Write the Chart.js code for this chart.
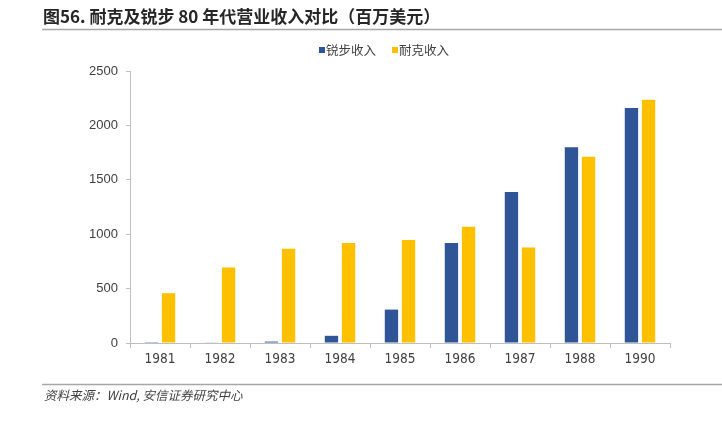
<!DOCTYPE html>
<html lang="zh">
<head>
  <meta charset="UTF-8" />
  <title>耐克及锐步 80 年代营业收入对比</title>
  <script src="https://cdn.jsdelivr.net/npm/chart.js"></script>
  <style>
    html, body { margin: 0; padding: 0; background: #fff; }
    #wrap { position: relative; width: 722px; height: 421px; }
  </style>
</head>
<body>
  <div id="wrap">
    <canvas id="revChart" width="722" height="421"></canvas>
  </div>

  <script>
    // 数据（百万美元）
    const years = ['1981', '1982', '1983', '1984', '1985', '1986', '1987', '1988', '1990'];
    const reebok = [1.5, 3.5, 13, 66, 307, 919, 1389, 1800, 2159];
    const nike = [458, 694, 867, 920, 946, 1069, 877, 1711, 2235];
    const yTicks = [0, 500, 1000, 1500, 2000, 2500];

    const titleText = '图56. 耐克及锐步 80 年代营业收入对比（百万美元）';
    const sourceText = '资料来源：Wind, 安信证券研究中心';

    const BLUE = '#2F5597';
    const GOLD = '#FFC000';
    const AXIS = '#BFBFBF';
    const CJK = '"Noto Sans CJK SC", "Noto Sans", sans-serif';

    // 标题、分隔线、图例、来源
    const decor = {
      id: 'decor',
      afterDraw(chart) {
        const c = chart.ctx;
        c.save();

        c.fillStyle = '#262626';
        c.font = 'bold 17px ' + CJK;
        c.textBaseline = 'middle';
        c.textAlign = 'left';
        c.fillText(titleText, 43, 17);

        c.strokeStyle = '#A6A6A6';
        c.lineWidth = 1.5;
        c.beginPath(); c.moveTo(42, 29.5); c.lineTo(722, 29.5); c.stroke();
        c.beginPath(); c.moveTo(42, 384.5); c.lineTo(722, 384.5); c.stroke();

        // 图例
        c.font = '12.5px ' + CJK;
        let x = 319;
        chart.data.datasets.forEach(ds => {
          c.fillStyle = ds.backgroundColor;
          c.fillRect(x, 47, 6, 6);
          c.fillStyle = '#404040';
          c.fillText(ds.label, x + 7, 50.5);
          x += 7 + c.measureText(ds.label).width + 16;
        });

        c.fillStyle = '#404040';
        c.font = 'italic 12.5px ' + CJK;
        c.fillText(sourceText, 44, 395);
        c.restore();
      }
    };

    new Chart(document.getElementById('revChart').getContext('2d'), {
      type: 'bar',
      data: {
        labels: years,
        datasets: [
          { label: '锐步收入', data: reebok, backgroundColor: BLUE },
          { label: '耐克收入', data: nike, backgroundColor: GOLD }
        ]
      },
      options: {
        responsive: false,
        animation: false,
        events: [],
        datasets: { bar: { categoryPercentage: 0.57, barPercentage: 0.78 } },
        layout: { padding: { left: 60, right: 52, top: 71, bottom: 38 } },
        plugins: { legend: { display: false }, tooltip: { enabled: false } },
        scales: {
          x: {
            afterFit(s) { s.height = 40; },
            border: { color: AXIS, width: 1 },
            grid: { offset: true, drawOnChartArea: false, drawTicks: true, tickLength: 5, color: AXIS },
            ticks: {
              color: '#404040',
              padding: 3,
              font: { family: '"DejaVu Sans Condensed", "Liberation Sans", Arial, sans-serif', size: 13.5 }
            }
          },
          y: {
            min: 0,
            max: 2500,
            afterFit(s) { s.width = 70; },
            afterBuildTicks(s) { s.ticks = yTicks.map(v => ({ value: v })); },
            border: { color: AXIS, width: 1 },
            grid: { drawOnChartArea: false, drawTicks: true, tickLength: 4, color: AXIS },
            ticks: {
              color: '#404040',
              padding: 8,
              callback: v => String(v),
              font: { family: '"Liberation Sans", Arial, sans-serif', size: 13 }
            }
          }
        }
      },
      plugins: [decor]
    });
  </script>
</body>
</html>
